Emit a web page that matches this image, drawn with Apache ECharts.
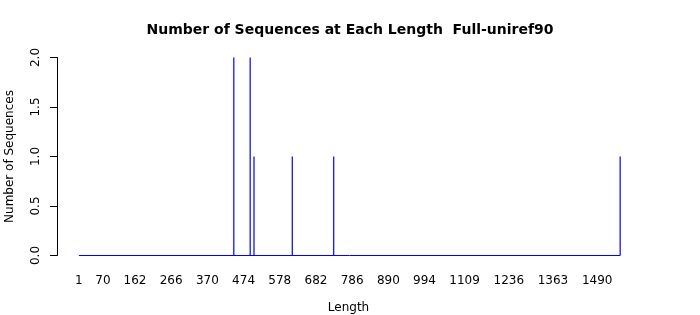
<!DOCTYPE html>
<html>
<head>
<meta charset="utf-8">
<script src="https://cdn.jsdelivr.net/npm/echarts@6/dist/echarts.min.js"></script>
<style>html,body{margin:0;padding:0;background:#fff}#c{width:700px;height:315px}</style>
</head>
<body>
<div id="c"></div>
<script>
const lengths = [446, 493, 504, 614, 733, 1556];
const counts = [2, 2, 1, 1, 1, 1];
const xTickLabels = [1, 70, 162, 266, 370, 474, 578, 682, 786, 890, 994, 1109, 1236, 1363, 1490];
const yTicks = [0, 0.5, 1, 1.5, 2];

const firstLength = xTickLabels[0];
const lastLength = Math.max.apply(null, lengths);
const F = 'DejaVu Sans';
const chart = echarts.init(document.getElementById('c'), null, {renderer: 'canvas'});
chart.setOption({
  animation: false,
  backgroundColor: '#fff',
  title: {
    text: 'Number of Sequences at Each Length  Full-uniref90',
    left: 'center', top: 18,
    textStyle: {fontFamily: F, fontSize: 14, fontWeight: 'bold', color: '#000'}
  },
  grid: {left: 57, right: 60, top: 57.5, bottom: 59.5, containLabel: false, outerBoundsMode: 'none'},
  xAxis: {
    type: 'value', min: -62, max: 1613,
    name: 'Length', nameLocation: 'middle', nameGap: 46,
    nameTextStyle: {fontFamily: F, fontSize: 12, color: '#000'},
    axisLine: {show: false}, axisTick: {show: false}, splitLine: {show: false},
    axisLabel: {customValues: xTickLabels, fontFamily: F, fontSize: 12, color: '#000', margin: 19,
      formatter: v => String(v)}
  },
  yAxis: {
    type: 'value', min: 0, max: 2, interval: 0.5,
    name: 'Number of Sequences', nameLocation: 'middle', nameGap: 41,
    nameTextStyle: {fontFamily: F, fontSize: 12, color: '#000'},
    axisLine: {show: true, onZero: false, lineStyle: {color: '#000', width: 1}},
    axisTick: {show: true, inside: false, length: 7, lineStyle: {color: '#000'}},
    splitLine: {show: false},
    axisLabel: {rotate: 90, fontFamily: F, fontSize: 12, color: '#000', margin: 15,
      formatter: v => v.toFixed(1)}
  },
  series: [
    {
      type: 'line', symbol: 'none', silent: true,
      data: [[firstLength, 0], [lastLength, 0]],
      lineStyle: {color: '#0000ff', width: 1}
    },
    {
      type: 'bar', barWidth: 1.2,
      data: lengths.map((l, i) => [l, counts[i]]),
      itemStyle: {color: '#0000ff'}
    }
  ]
});
</script>
</body>
</html>
